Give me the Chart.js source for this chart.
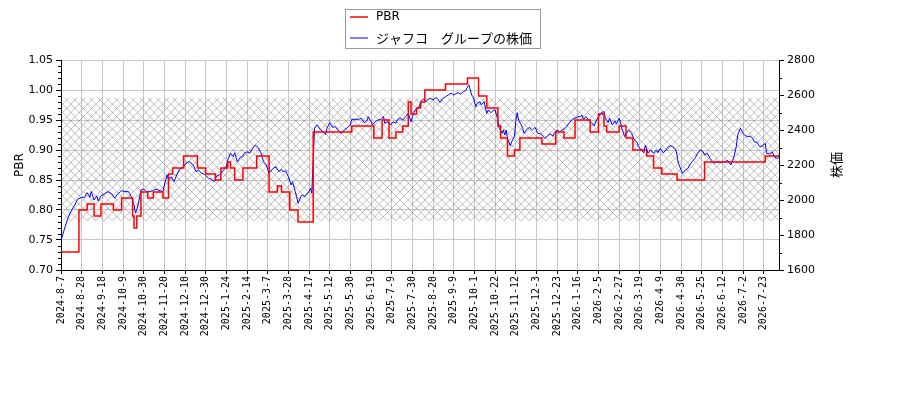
<!DOCTYPE html>
<html>
<head>
<meta charset="utf-8">
<script src="https://cdn.jsdelivr.net/npm/chart.js@4.4.1/dist/chart.umd.min.js"></script>
<style>
html,body{margin:0;padding:0;background:#fff;}
#wrap{width:900px;height:400px;position:relative;}
</style>
</head>
<body>
<div id="wrap"><canvas id="c" width="900" height="400"></canvas></div>
<script>
// ---- data ----
const tickLabels = ['2024-8-7','2024-8-28','2024-9-18','2024-10-9','2024-10-30','2024-11-20','2024-12-10','2024-12-30','2025-1-24','2025-2-14','2025-3-7','2025-3-28','2025-4-17','2025-5-12','2025-5-30','2025-6-19','2025-7-9','2025-7-30','2025-8-20','2025-9-9','2025-10-1','2025-10-22','2025-11-12','2025-12-3','2025-12-23','2026-1-16','2026-2-5','2026-2-27','2026-3-19','2026-4-9','2026-4-30','2026-5-25','2026-6-12','2026-7-2','2026-7-23'];
const tickEvery = 15;          // trading days between labelled ticks
const lastDay = 521;           // index of last trading day

const pbrTicks = [0.70,0.75,0.80,0.85,0.90,0.95,1.00,1.05];
const priceTicks = [1600,1800,2000,2200,2400,2600,2800];

// PBR (step series): trading-day index where a new value starts, and that value
const pbrDay = [0,13,19,24,29,38,44,52,53,55,58,63,67,74,78,81,89,99,105,112,116,121,123,126,132,142,151,157,160,166,172,183,211,227,233,238,243,248,252,254,258,261,264,279,295,303,309,317,319,324,329,333,349,359,365,373,384,390,394,396,405,410,415,425,430,436,447,467,511,521];
const pbrValue = [0.73,0.80,0.81,0.79,0.81,0.80,0.82,0.79,0.77,0.79,0.83,0.82,0.83,0.82,0.86,0.87,0.89,0.87,0.86,0.85,0.87,0.88,0.87,0.85,0.87,0.89,0.83,0.84,0.83,0.80,0.78,0.93,0.94,0.92,0.95,0.92,0.93,0.94,0.98,0.96,0.97,0.98,1.00,1.01,1.02,0.99,0.97,0.94,0.92,0.89,0.90,0.92,0.91,0.93,0.92,0.95,0.93,0.96,0.94,0.93,0.94,0.92,0.90,0.89,0.87,0.86,0.85,0.88,0.89,0.89];

// share price (right axis)
const priceDay = [0,3,5,7,10,12,15,17,19,21,22,24,26,27,29,32,34,37,39,41,44,46,49,51,53,54,55,56,58,60,62,64,67,69,72,74,75,77,78,80,82,84,86,89,91,93,96,98,100,102,104,107,109,111,113,115,118,120,121,123,125,126,128,130,132,133,135,137,139,141,143,145,147,149,151,152,154,156,158,160,161,163,165,167,168,170,171,172,174,175,177,178,180,181,182,183,184,186,188,190,192,193,195,197,199,201,203,205,206,208,210,211,214,216,218,220,222,223,225,226,228,230,232,234,235,237,239,241,243,244,246,248,250,252,254,255,256,258,260,261,263,265,266,268,270,272,273,275,277,279,281,283,285,286,288,290,292,294,295,296,297,298,299,301,302,304,305,307,308,309,310,312,314,315,317,318,320,321,322,323,324,326,327,329,330,331,332,334,335,336,338,340,342,344,346,348,349,351,353,355,357,358,360,362,364,366,367,369,371,373,375,377,378,379,381,383,385,387,388,390,392,394,395,397,398,400,402,403,405,406,407,409,411,412,414,416,418,419,421,423,424,426,428,430,432,433,435,437,439,440,442,444,446,447,448,450,451,453,455,456,458,460,462,464,466,467,469,471,473,474,476,479,481,484,486,488,490,491,493,495,496,498,500,502,503,505,507,509,511,512,514,516,518,520,521];
const priceValue = [1770,1847,1895,1933,1971,2004,2015,2015,2042,2015,2048,2000,2023,1994,2023,2038,2048,2034,2010,2034,2053,2048,2048,2019,1971,1925,1945,1975,2057,2063,2048,2048,2053,2063,2053,2048,2086,2143,2114,2133,2105,2143,2175,2190,2213,2219,2200,2162,2171,2152,2148,2124,2119,2105,2137,2143,2171,2190,2229,2267,2248,2270,2219,2243,2251,2267,2276,2267,2295,2314,2301,2270,2219,2200,2152,2162,2181,2190,2162,2175,2162,2167,2133,2086,2105,2048,2019,1981,2019,2029,2019,2029,2048,2067,2038,2230,2410,2429,2404,2390,2375,2410,2442,2415,2420,2400,2381,2395,2404,2415,2429,2461,2461,2461,2467,2442,2452,2476,2447,2429,2447,2457,2461,2476,2438,2447,2429,2447,2438,2457,2467,2457,2476,2495,2447,2476,2499,2524,2533,2562,2578,2562,2575,2581,2572,2585,2581,2558,2581,2590,2600,2610,2600,2605,2614,2605,2619,2629,2648,2657,2629,2600,2590,2533,2552,2562,2543,2562,2524,2495,2514,2499,2514,2514,2457,2410,2381,2400,2371,2400,2352,2309,2333,2362,2448,2499,2457,2429,2410,2381,2404,2415,2400,2415,2381,2378,2371,2352,2365,2378,2365,2386,2400,2390,2400,2410,2420,2442,2461,2467,2476,2476,2486,2461,2476,2457,2442,2423,2447,2476,2499,2505,2467,2442,2467,2429,2452,2435,2467,2442,2410,2362,2390,2400,2381,2343,2330,2305,2286,2270,2314,2267,2286,2267,2286,2270,2295,2270,2286,2299,2310,2305,2290,2257,2210,2171,2152,2171,2181,2200,2219,2238,2267,2286,2276,2257,2267,2238,2219,2210,2219,2213,2219,2225,2200,2238,2305,2371,2410,2381,2371,2362,2365,2352,2333,2330,2305,2310,2324,2267,2263,2276,2244,2238,2244];

// shaded (hatched) band on the PBR axis
const bandLow = 0.782;
const bandHigh = 0.987;

const seriesNames = ['PBR', 'ジャフコ\u3000グループの株価'];
const axisTitles = ['PBR', '株価'];

// ---- chart ----
const AREA = {left: 61, right: 779, top: 60, bottom: 270};

function makeHatch() {
  const s = 25, c = document.createElement('canvas');
  c.width = s; c.height = s;
  const g = c.getContext('2d');
  g.strokeStyle = 'rgba(110,110,110,0.55)';
  g.lineWidth = 0.8;
  const step = s / 3;
  g.beginPath();
  for (let k = -3; k <= 6; k++) {
    g.moveTo(k * step, 0); g.lineTo(k * step + s, s);
    g.moveTo(k * step, s); g.lineTo(k * step + s, 0);
  }
  g.stroke();
  return g.createPattern(c, 'repeat');
}

const decor = {
  id: 'decor',
  beforeDatasetsDraw(chart) {
    const {ctx, chartArea: a} = chart;
    const y = chart.scales.y;
    const top = y.getPixelForValue(bandHigh), bot = y.getPixelForValue(bandLow);
    ctx.save();
    ctx.beginPath(); ctx.rect(a.left, a.top, a.right - a.left, a.bottom - a.top); ctx.clip();
    ctx.fillStyle = makeHatch();
    ctx.fillRect(a.left, top, a.right - a.left, bot - top);
    ctx.restore();
  },
  afterDraw(chart) {
    const {ctx, chartArea: a} = chart;
    const y = chart.scales.y, y2 = chart.scales.y2;
    ctx.save();
    ctx.strokeStyle = '#000'; ctx.lineWidth = 1;
    // minor ticks
    ctx.beginPath();
    for (let v = 70; v <= 105; v++) {
      if (v % 5 === 0) continue;
      const p = Math.round(y.getPixelForValue(v / 100)) + 0.5;
      ctx.moveTo(a.left, p); ctx.lineTo(a.left - 3, p);
    }
    for (let v = 1700; v < 2800; v += 200) {
      const p = Math.round(y2.getPixelForValue(v)) + 0.5;
      ctx.moveTo(a.right, p); ctx.lineTo(a.right + 3, p);
    }
    ctx.stroke();
    // axis titles
    ctx.fillStyle = '#000';
    ctx.textAlign = 'center'; ctx.textBaseline = 'middle';
    ctx.font = '12px "DejaVu Sans"';
    ctx.save(); ctx.translate(20, 165); ctx.rotate(-Math.PI / 2); ctx.fillText(axisTitles[0], 0, 0); ctx.restore();
    ctx.font = '13px "Noto Sans CJK JP"';
    ctx.save(); ctx.translate(836, 165); ctx.rotate(-Math.PI / 2); ctx.fillText(axisTitles[1], 0, 0); ctx.restore();
    // legend
    const lx = 345.5, ly = 9.5, lw = 195, lh = 39;
    ctx.fillStyle = 'rgba(255,255,255,0.85)';
    ctx.fillRect(lx, ly, lw, lh);
    ctx.strokeStyle = '#999'; ctx.lineWidth = 1;
    ctx.strokeRect(lx, ly, lw, lh);
    const rows = [{y: 17, color: 'red', w: 1.5}, {y: 38, color: 'blue', w: 1}];
    rows.forEach((r, i) => {
      ctx.strokeStyle = r.color; ctx.lineWidth = r.w;
      ctx.beginPath(); ctx.moveTo(350, r.y); ctx.lineTo(368, r.y); ctx.stroke();
      ctx.fillStyle = '#000'; ctx.textAlign = 'left'; ctx.textBaseline = 'middle';
      ctx.font = i === 0 ? '12px "DejaVu Sans"' : '13px "Noto Sans CJK JP"';
      ctx.fillText(seriesNames[i], 376, r.y);
    });
    ctx.restore();
  }
};

new Chart(document.getElementById('c'), {
  type: 'line',
  data: {
    datasets: [
      {
        label: seriesNames[0],
        data: pbrDay.map((d, i) => ({x: d, y: pbrValue[i]})),
        yAxisID: 'y', borderColor: 'red', borderWidth: 1.5,
        stepped: true, pointRadius: 0, fill: false
      },
      {
        label: seriesNames[1],
        data: priceDay.map((d, i) => ({x: d, y: priceValue[i]})),
        yAxisID: 'y2', borderColor: 'blue', borderWidth: 1,
        pointRadius: 0, tension: 0, fill: false
      }
    ]
  },
  options: {
    responsive: false,
    animation: false,
    layout: {padding: {top: AREA.top, left: 0, right: 0, bottom: 0}},
    plugins: {legend: {display: false}, tooltip: {enabled: false}},
    scales: {
      x: {
        type: 'linear', min: 0, max: lastDay,
        afterBuildTicks: s => { s.ticks = tickLabels.map((_, i) => ({value: i * tickEvery})); },
        afterFit: s => { s.height = 400 - AREA.bottom; },
        ticks: {
          autoSkip: false, minRotation: 90, maxRotation: 90, padding: 2,
          color: '#000', font: {family: '"DejaVu Sans Mono"', size: 10},
          callback: v => tickLabels[Math.round(v / tickEvery)] || ''
        },
        grid: {color: '#c8c8c8', lineWidth: 1, tickColor: '#000', tickLength: 4},
        border: {display: true, color: '#000', width: 1}
      },
      y: {
        position: 'left', min: 0.70, max: 1.05,
        afterBuildTicks: s => { s.ticks = pbrTicks.map(v => ({value: v})); },
        afterFit: s => { s.width = AREA.left; },
        ticks: {color: '#000', padding: 3, font: {family: '"DejaVu Sans"', size: 11}, callback: v => Number(v).toFixed(2)},
        grid: {color: '#c8c8c8', lineWidth: 1, tickColor: '#000', tickLength: 5},
        border: {display: true, color: '#000', width: 1}
      },
      y2: {
        position: 'right', min: 1600, max: 2800,
        afterBuildTicks: s => { s.ticks = priceTicks.map(v => ({value: v})); },
        afterFit: s => { s.width = 900 - AREA.right; },
        ticks: {color: '#000', padding: 3, font: {family: '"DejaVu Sans"', size: 11}, callback: v => String(v)},
        grid: {drawOnChartArea: false, tickColor: '#000', tickLength: 5},
        border: {display: true, color: '#000', width: 1}
      }
    }
  },
  plugins: [decor]
});
</script>
</body>
</html>
